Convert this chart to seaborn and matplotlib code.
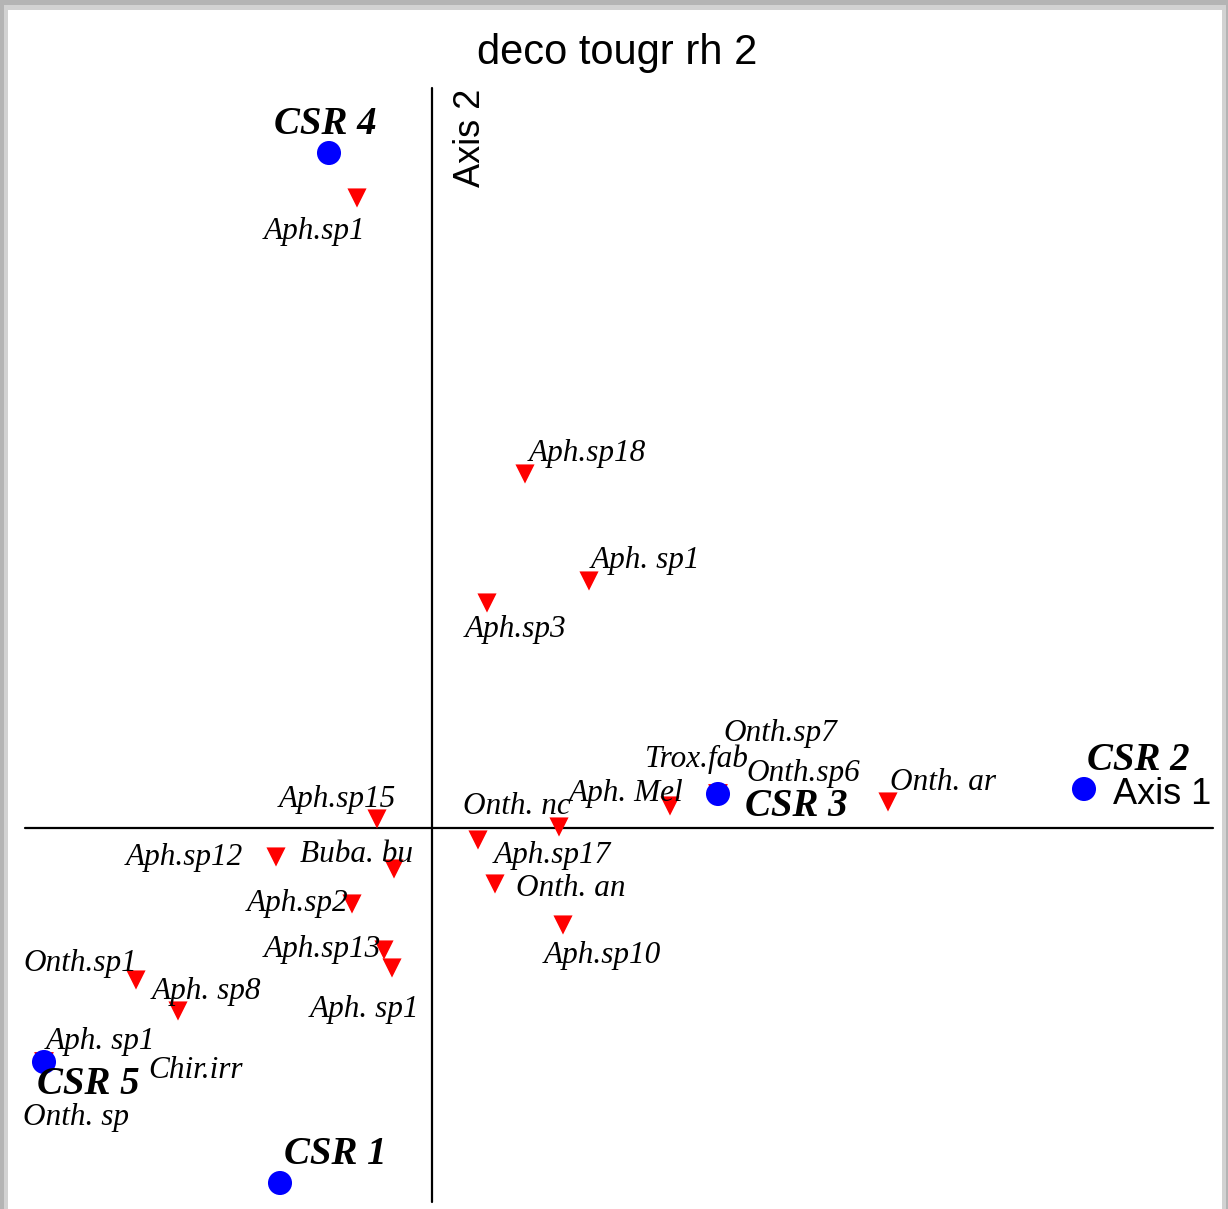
import matplotlib
matplotlib.use("Agg")
import matplotlib.pyplot as plt
from matplotlib.patches import Rectangle
import seaborn as sns
import pandas as pd

# Ordination scores (axis 1, axis 2)
species_names = ["Aph.sp1", "Aph.sp18", "Aph. sp1", "Aph.sp3", "Aph.sp15", "Onth. nc",
                 "Aph. Mel", "Trox.fab", "Onth.sp7", "Onth.sp6", "Onth. ar", "Aph.sp17",
                 "Onth. an", "Aph.sp10", "Aph.sp12", "Buba. bu", "Aph.sp2", "Aph.sp13",
                 "Aph. sp1", "Onth.sp1", "Aph. sp8", "Aph. sp1", "Chir.irr", "Onth. sp"]
species_ax1 = [-0.375, 0.465, 0.785, 0.275, -0.275, 0.635,
               1.19, 1.43, 1.43, 1.43, 2.28, 0.23,
               0.315, 0.655, -0.78, -0.19, -0.40, -0.24,
               -0.20, -1.48, -1.27, -1.94, -1.94, -1.94]
species_ax2 = [3.15, 1.77, 1.235, 1.125, 0.045, 0.005,
               0.11, 0.17, 0.17, 0.17, 0.13, -0.06,
               -0.28, -0.485, -0.145, -0.205, -0.38, -0.61,
               -0.70, -0.76, -0.915, -1.17, -1.17, -1.17]

site_names = ["CSR 1", "CSR 2", "CSR 3", "CSR 4", "CSR 5"]
site_ax1 = [-0.76, 3.26, 1.43, -0.515, -1.94]
site_ax2 = [-1.775, 0.195, 0.17, 3.375, -1.17]

# label offsets (pixels) from each point
species_offsets = [(-42, -34), (62, 21), (56, 20), (29, -27), (-40, 19), (-42, 20),
                   (-44, 13), (-21, 35), (62, 60), (85, 21), (55, 20), (74, -16),
                   (76, -5), (39, -31), (-92, -1), (-37, 14), (-54, 0), (-62, 0),
                   (-28, -42), (-56, 16), (28, 20), (56, 20), (152, -9), (32, -56)]
site_offsets = [(55, 28), (54, 28), (78, -13), (-4, 28), (44, -22)]

W, H = 1228, 1209
SCALE = 200.0  # pixels per score unit
ORIGIN = (432, 828)

sns.set_theme(style="white", rc={"text.color": "black"})
plt.rcParams['font.family'] = ['Liberation Serif', 'DejaVu Serif']

fig = plt.figure(figsize=(W / 100, H / 100), dpi=100)
fig.patch.set_facecolor('#b4b4b4')

# drop-shadow frame around the white panel (behind the axes)
fig.add_artist(Rectangle((4 / W, 0), (W - 6) / W, (H - 5) / H, transform=fig.transFigure,
                         facecolor='#d2d2d2', edgecolor='none', zorder=-2))
fig.add_artist(Rectangle((8 / W, 0), (W - 14) / W, (H - 10) / H, transform=fig.transFigure,
                         facecolor='white', edgecolor='none', zorder=-1))

ax = fig.add_axes([0, 0, 1, 1])
ax.set_facecolor('none')
ax.set_xlim(-ORIGIN[0] / SCALE, (W - ORIGIN[0]) / SCALE)
ax.set_ylim(-(H - ORIGIN[1]) / SCALE, ORIGIN[1] / SCALE)
ax.axis('off')

# axis cross
ax.plot([(25 - ORIGIN[0]) / SCALE, (1213 - ORIGIN[0]) / SCALE], [0, 0], color='black', lw=1.6, zorder=1)
ax.plot([0, 0], [(ORIGIN[1] - 1202) / SCALE, (ORIGIN[1] - 88) / SCALE], color='black', lw=1.6, zorder=1)

species = pd.DataFrame({"name": species_names, "ax1": species_ax1, "ax2": species_ax2})
sites = pd.DataFrame({"name": site_names, "ax1": site_ax1, "ax2": site_ax2})

sns.scatterplot(data=species, x="ax1", y="ax2", marker='v', s=190, color='#ff0000',
                edgecolor='none', ax=ax, zorder=3)
sns.scatterplot(data=sites, x="ax1", y="ax2", marker='o', s=300, color='#0000ff',
                edgecolor='none', ax=ax, zorder=4)

for (name, x, y), (dx, dy) in zip(species[["name", "ax1", "ax2"]].values, species_offsets):
    ax.annotate(name, (x, y), xytext=(dx, dy), textcoords='offset pixels',
                ha='center', va='center', fontsize=22.5, fontstyle='italic', zorder=5)

for (name, x, y), (dx, dy) in zip(sites[["name", "ax1", "ax2"]].values, site_offsets):
    ax.annotate(name, (x, y), xytext=(dx, dy), textcoords='offset pixels',
                ha='center', va='center', fontsize=28, fontstyle='italic',
                fontweight='bold', zorder=5)

ax.text((1162 - ORIGIN[0]) / SCALE, (ORIGIN[1] - 795) / SCALE, "Axis 1",
        ha='center', va='center', fontsize=26, family='Liberation Sans')
ax.text((470 - ORIGIN[0]) / SCALE, (ORIGIN[1] - 138) / SCALE, "Axis 2",
        ha='center', va='center', rotation=90, fontsize=26, family='Liberation Sans')

fig.text(617 / W, 1 - 53 / H, "deco tougr rh 2", ha='center', va='center',
         fontsize=30, family='Liberation Sans')

fig.savefig("out.png", dpi=100)
plt.close(fig)
